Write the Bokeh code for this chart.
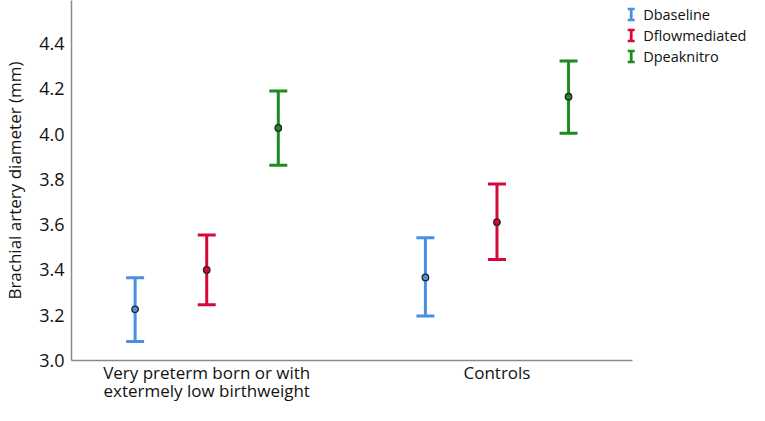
import numpy as np
from bokeh.plotting import figure
from bokeh.models import Range1d, FixedTicker, PrintfTickFormatter
from bokeh.core.properties import value
from bokeh.embed import file_html
from bokeh.resources import INLINE

# ---- data ----
groups = ["Very preterm born or with\nextermely low birthweight", "Controls"]
series = ["Dbaseline", "Dflowmediated", "Dpeaknitro"]
colors = ["#4A90E2", "#D6083B", "#1F8A1F"]

mean_baseline = [3.226, 3.367]
lower_baseline = [3.084, 3.197]
upper_baseline = [3.366, 3.542]

mean_flow = [3.400, 3.611]
lower_flow = [3.246, 3.446]
upper_flow = [3.554, 3.779]

mean_nitro = [4.027, 4.165]
lower_nitro = [3.862, 4.004]
upper_nitro = [4.190, 4.323]

y_ticks = [3.0, 3.2, 3.4, 3.6, 3.8, 4.0, 4.2, 4.4]

means = [mean_baseline, mean_flow, mean_nitro]
lowers = [lower_baseline, lower_flow, lower_nitro]
uppers = [upper_baseline, upper_flow, upper_nitro]

# ---- layout ----
W, H = 749, 405
FL, FB = 67, 45
FRAME_BOTTOM = H - FB
offsets = [-0.2466, 0.0, 0.2466]
x_lo, x_hi, x_end = -0.4658, 1.4658, 1.8699
FONT = "Open Sans"
TXT = "#111111"

p = figure(width=W, height=H, output_backend="svg", toolbar_location=None,
           x_range=Range1d(x_lo, x_end), y_range=Range1d(3.0, 4.59),
           min_border_left=FL, min_border_right=0, min_border_top=0,
           min_border_bottom=FB)
p.outline_line_color = None
p.xgrid.visible = False
p.ygrid.visible = False

gx = np.arange(len(groups))
for s, name in enumerate(series):
    x = gx + offsets[s]
    col = colors[s]
    p.segment(x0=x, y0=lowers[s], x1=x, y1=uppers[s], line_color=col, line_width=3)
    p.scatter(x=np.concatenate([x, x]), y=lowers[s] + uppers[s], marker="dash",
              size=18, line_color=col, line_width=3)
    p.scatter(x=x, y=means[s], marker="circle", size=6.5, fill_color=col,
              line_color="#222222", line_width=1.3)

xa = p.xaxis[0]
xa.ticker = FixedTicker(ticks=list(gx))
xa.major_label_overrides = {int(i): g for i, g in enumerate(groups)}
xa.bounds = (x_lo, x_hi)
xa.axis_label = None
xa.major_tick_line_color = None
xa.major_tick_out = 0
xa.major_tick_in = 0
xa.minor_tick_line_color = None
xa.axis_line_color = "#8a8a8a"
xa.axis_line_width = 1.5
xa.major_label_text_font = FONT
xa.major_label_text_font_size = "17px"
xa.major_label_text_color = TXT
xa.major_label_text_line_height = 0.82
xa.major_label_standoff = 0

ya = p.yaxis[0]
ya.ticker = FixedTicker(ticks=y_ticks)
ya.formatter = PrintfTickFormatter(format="%.1f")
ya.major_tick_line_color = None
ya.major_tick_out = 0
ya.major_tick_in = 0
ya.minor_tick_line_color = None
ya.axis_line_color = "#8a8a8a"
ya.axis_line_width = 1.5
ya.major_label_text_font = FONT
ya.major_label_text_font_size = "18px"
ya.major_label_text_color = TXT
ya.major_label_standoff = 7
ya.axis_label = "Brachial artery diameter (mm)"
ya.axis_label_text_font = FONT
ya.axis_label_text_font_style = "normal"
ya.axis_label_text_font_size = "17px"
ya.axis_label_text_color = TXT
ya.axis_label_standoff = 10

# ---- legend, drawn in canvas-pixel ranges ----
p.extra_x_ranges = {"lg": Range1d(FL, W)}
p.extra_y_ranges = {"lg": Range1d(FRAME_BOTTOM, 0)}
icon_x, text_x = 630, 642
rows_y = [14, 35, 56]
half = 5.5
for s, name in enumerate(series):
    ry = rows_y[s]
    p.segment(x0=[icon_x], y0=[ry - half], x1=[icon_x], y1=[ry + half],
              line_color=colors[s], line_width=2.8, x_range_name="lg", y_range_name="lg")
    p.scatter(x=[icon_x, icon_x], y=[ry - half, ry + half], marker="dash", size=7,
              line_color=colors[s], line_width=2.5, x_range_name="lg", y_range_name="lg")
    p.text(x=[text_x], y=[ry], text=[name], text_baseline="middle",
           text_font=value(FONT), text_font_size="14.5px", text_color=TXT,
           x_range_name="lg", y_range_name="lg")

open("out.html", "w").write(file_html(p, INLINE))
